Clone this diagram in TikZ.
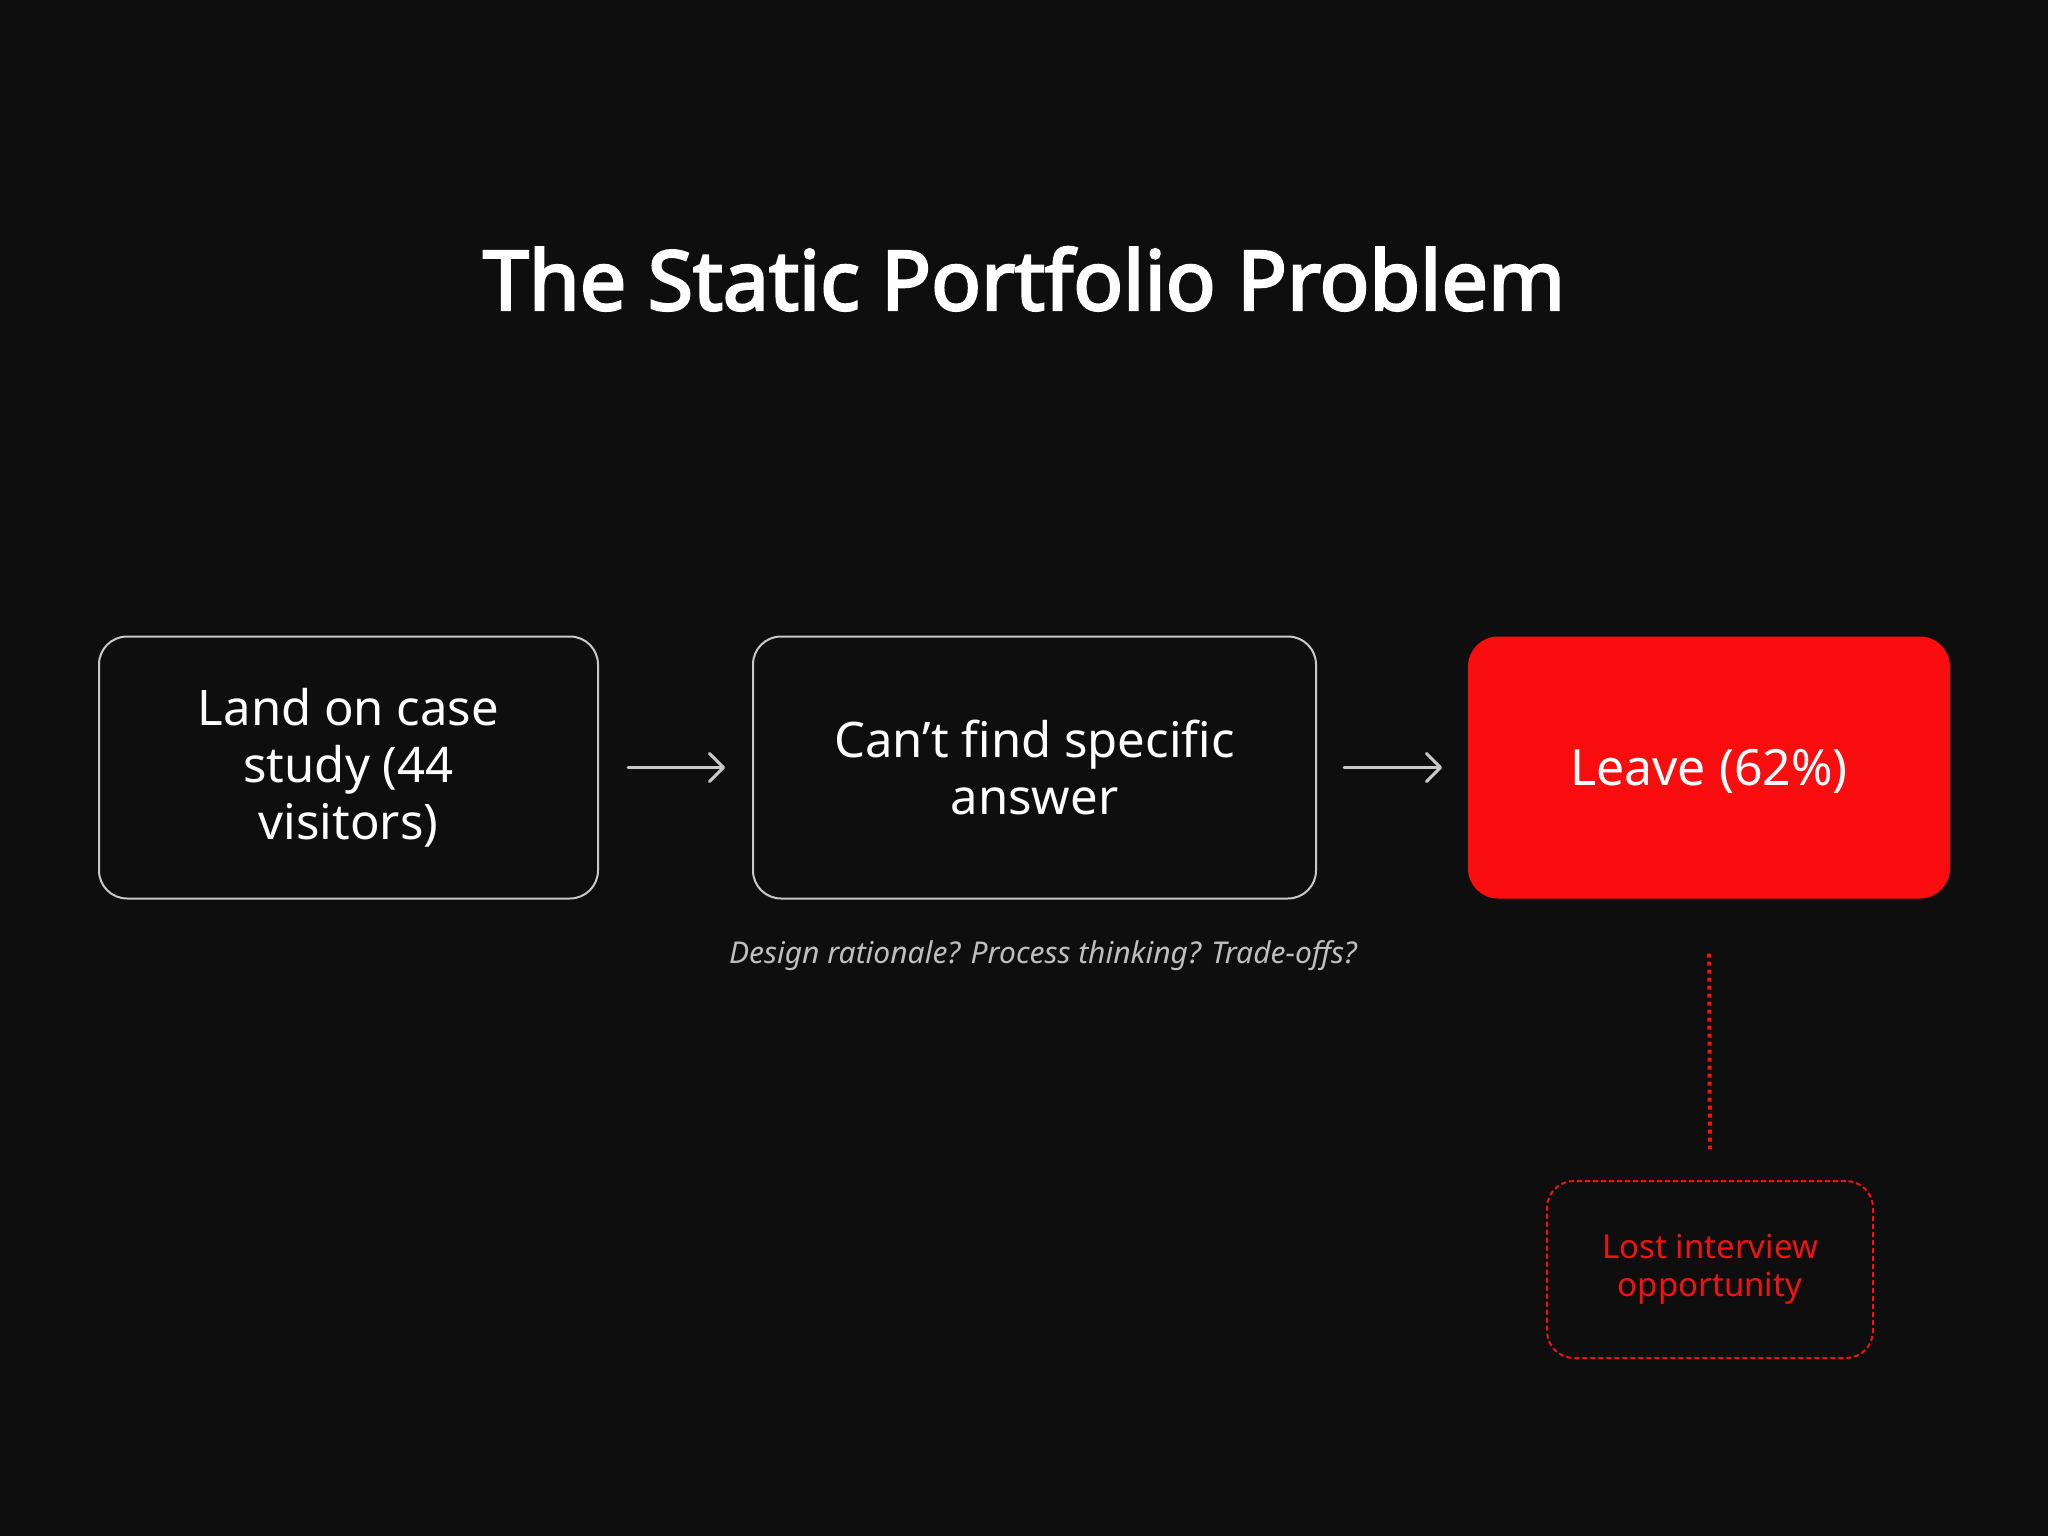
\documentclass[tikz,border=0pt]{standalone}
\usepackage{fontspec}
\setmainfont{Noto Sans}
\newfontfamily\titlefont{Noto Sans}[FakeBold=3]
\usetikzlibrary{arrows.meta}
\definecolor{bgc}{HTML}{0E0E0E}
\definecolor{edgec}{HTML}{C9C9C9}
\definecolor{capc}{HTML}{BEBEBE}
\definecolor{redc}{HTML}{F90D0E}
\definecolor{redt}{HTML}{F21212}
\tikzset{
  stepbox/.style={draw=edgec, line width=2pt, rounded corners=28pt, fill=bgc,
    text=white, align=center, inner sep=0pt, outer sep=0pt,
    font=\fontsize{49}{57}\selectfont},
  redbox/.style={fill=redc, rounded corners=30pt, text=white, align=center,
    inner sep=0pt, outer sep=0pt, font=\fontsize{50}{58}\selectfont},
  lostbox/.style={draw=redt, line width=2pt, dash pattern=on 5pt off 3pt,
    rounded corners=27pt, text=redt, align=center, inner sep=0pt, outer sep=0pt,
    font=\fontsize{33}{38}\selectfont},
  flow/.style={draw=edgec, line width=3pt, line cap=round,
    -{Straight Barb[length=14pt,width=28pt,line width=3pt,round]}},
  dotline/.style={draw=redt, line width=4pt, dash pattern=on 4pt off 4pt}
}
\begin{document}
\begin{tikzpicture}[x=1pt,y=-1pt]
\fill[bgc] (0,0) rectangle (2048,1536);
\useasboundingbox (0,0) rectangle (2048,1536);

\node[text=white, anchor=base, font=\fontsize{82.5}{96}\titlefont] (title) at (1024,310) {The Static Portfolio Problem};

\node[stepbox, minimum width=499pt, minimum height=262pt] (land) at (348.5,767.5) {Land on case\\study (44\\visitors)};
\node[stepbox, minimum width=563pt, minimum height=262pt] (cant) at (1034.5,767.5) {Can’t find specific\\answer};
\node[redbox, minimum width=482pt, minimum height=262pt] (leave) at (1709,767.5) {\raisebox{-4pt}[\height][\depth]{Leave (62\%)}};

\draw[flow, shorten <=30pt, shorten >=28pt] (land.east) -- (cant.west);
\draw[flow, shorten <=28pt, shorten >=26pt] (cant.east) -- (leave.west);

\node[text=capc, anchor=base, font=\fontsize{30}{35}\selectfont\itshape] (cap) at (1043,963) {Design rationale? Process thinking? Trade-offs?};

\node[lostbox, minimum width=326pt, minimum height=177pt] (lost) at (1710,1269.5) {Lost interview\\opportunity};

\draw[dotline, shorten <=55pt, shorten >=32pt] (leave.south) -- (lost.north);
\end{tikzpicture}
\end{document}
